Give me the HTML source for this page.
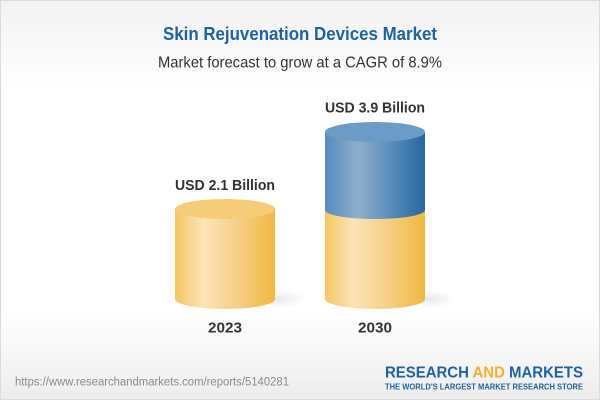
<!DOCTYPE html>
<html><head><meta charset="utf-8"><style>
html,body{margin:0;padding:0;width:600px;height:400px;overflow:hidden;}
svg{display:block;}
text{font-family:"Liberation Sans",sans-serif;}
</style></head><body>
<svg width="600" height="400" viewBox="0 0 600 400" xmlns="http://www.w3.org/2000/svg">
<defs>
<linearGradient id="bg" x1="0" y1="0" x2="0" y2="1">
<stop offset="0" stop-color="#f2f2f2"/>
<stop offset="0.22" stop-color="#ffffff"/>
<stop offset="0.78" stop-color="#ffffff"/>
<stop offset="1" stop-color="#ededed"/>
</linearGradient>
<linearGradient id="yel" x1="0" y1="0" x2="1" y2="0">
<stop offset="0" stop-color="#f3c664"/>
<stop offset="0.28" stop-color="#fbe5b6"/>
<stop offset="0.6" stop-color="#f6d18a"/>
<stop offset="1" stop-color="#f0b840"/>
</linearGradient>
<linearGradient id="blu" x1="0" y1="0" x2="1" y2="0">
<stop offset="0" stop-color="#558bbd"/>
<stop offset="0.33" stop-color="#8dafcb"/>
<stop offset="0.6" stop-color="#6593bd"/>
<stop offset="1" stop-color="#26669f"/>
</linearGradient>
<radialGradient id="sh" cx="0.5" cy="0.5" r="0.5">
<stop offset="0" stop-color="#000" stop-opacity="0.09"/>
<stop offset="1" stop-color="#000" stop-opacity="0"/>
</radialGradient>
</defs>
<rect x="0" y="0" width="600" height="400" fill="url(#bg)"/>
<rect x="0.5" y="0.5" width="599" height="399" fill="none" stroke="#dcdcdc" stroke-width="1"/>

<text x="300" y="40" text-anchor="middle" font-size="18" font-weight="bold" fill="#1f62a0" textLength="274" lengthAdjust="spacingAndGlyphs">Skin Rejuvenation Devices Market</text>
<text x="300" y="67.5" text-anchor="middle" font-size="16" fill="#333" textLength="284" lengthAdjust="spacingAndGlyphs">Market forecast to grow at a CAGR of 8.9%</text>

<!-- shadows -->
<ellipse cx="278" cy="299" rx="28" ry="9" fill="url(#sh)"/>
<ellipse cx="428" cy="299" rx="28" ry="9" fill="url(#sh)"/>

<!-- cylinder 1 -->
<path d="M175 209 L175 299 A50 10 0 0 0 275 299 L275 209 Z" fill="url(#yel)"/>
<ellipse cx="225" cy="209" rx="50" ry="10" fill="#f5cd78"/>

<!-- cylinder 2 -->
<path d="M325 210 L325 299 A50 10 0 0 0 425 299 L425 210 Z" fill="url(#yel)"/>
<path d="M325 132 L325 210 A50 9 0 0 0 425 210 L425 132 Z" fill="url(#blu)"/>
<ellipse cx="375" cy="132" rx="50" ry="10" fill="#6a9cc6"/>

<text x="225" y="190" text-anchor="middle" font-size="15" font-weight="bold" fill="#333" textLength="100" lengthAdjust="spacingAndGlyphs">USD 2.1 Billion</text>
<text x="375" y="112.5" text-anchor="middle" font-size="15" font-weight="bold" fill="#333" textLength="100" lengthAdjust="spacingAndGlyphs">USD 3.9 Billion</text>
<text x="225" y="332.5" text-anchor="middle" font-size="15" font-weight="bold" fill="#333" textLength="34" lengthAdjust="spacingAndGlyphs">2023</text>
<text x="375" y="332.5" text-anchor="middle" font-size="15" font-weight="bold" fill="#333" textLength="34" lengthAdjust="spacingAndGlyphs">2030</text>

<text x="15" y="385.5" font-size="11.5" fill="#8a8a8a" textLength="274" lengthAdjust="spacingAndGlyphs">https://www.researchandmarkets.com/reports/5140281</text>

<text x="385" y="377.3" font-size="15.5" font-weight="bold" fill="#1f62a0" textLength="198" lengthAdjust="spacingAndGlyphs">RESEARCH <tspan fill="#f2b133">AND</tspan> MARKETS</text>
<text x="385" y="389.3" font-size="8.5" font-weight="bold" fill="#1f62a0" textLength="198" lengthAdjust="spacingAndGlyphs">THE WORLD'S LARGEST MARKET RESEARCH STORE</text>
</svg>
</body></html>
